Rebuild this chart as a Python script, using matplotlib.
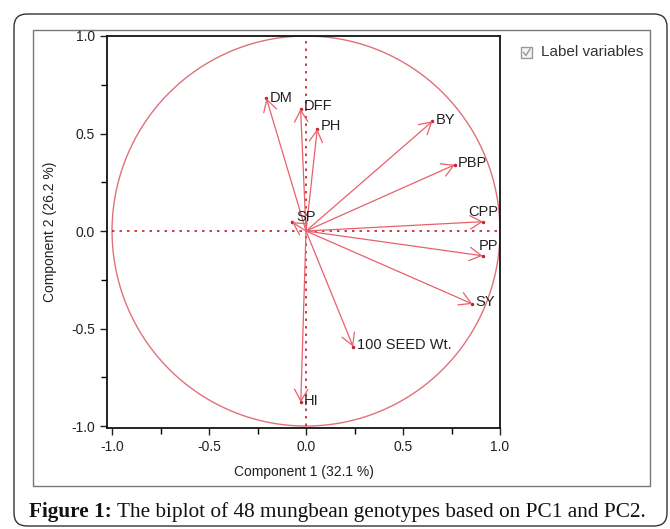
import matplotlib
matplotlib.use('Agg')
import matplotlib.pyplot as plt
from matplotlib.patches import FancyBboxPatch, Rectangle
from matplotlib.ticker import MultipleLocator
import numpy as np

# ---- data ----
variables = ['DM', 'DFF', 'PH', 'BY', 'PBP', 'CPP', 'PP', 'SY', '100 SEED Wt.', 'HI', 'SP']
pc1 = [-0.204, -0.028, 0.058, 0.652, 0.767, 0.913, 0.910, 0.858, 0.243, -0.027, -0.071]
pc2 = [0.680, 0.626, 0.523, 0.563, 0.340, 0.048, -0.127, -0.374, -0.593, -0.878, 0.045]
x_ticks = [-1.0, -0.5, 0.0, 0.5, 1.0]
y_ticks = [-1.0, -0.5, 0.0, 0.5, 1.0]
x_label = 'Component 1 (32.1 %)'
y_label = 'Component 2 (26.2 %)'
legend_text = 'Label variables'
caption_bold = 'Figure 1:'
caption_rest = ' The biplot of 48 mungbean genotypes based on PC1 and PC2.'

# ---- style ----
label_offsets = {'DM': (3, 0), 'DFF': (3, 3), 'PH': (3, 3), 'BY': (3, 1), 'PBP': (3, 2),
                 'CPP': (-15, 10), 'PP': (-4, 10), 'SY': (3, 2), '100 SEED Wt.': (4, 2),
                 'HI': (3, 1), 'SP': (4, 5)}
arrow_col = '#e8606c'
circle_col = '#e0707c'
dot_col = '#c02030'
sans = ['Liberation Sans', 'DejaVu Sans']
serif = ['Liberation Serif', 'DejaVu Serif']

W, H = 670, 529
fig = plt.figure(figsize=(W / 100, H / 100), dpi=100)
fig.patch.set_facecolor('white')

# overlay axes in pixel coordinates for frames
ov = fig.add_axes([0, 0, 1, 1])
ov.set_xlim(0, W)
ov.set_ylim(H, 0)
ov.axis('off')
ov.add_patch(FancyBboxPatch((14, 14), 653, 512, boxstyle='round,pad=0,rounding_size=13',
                            fill=False, ec='#333333', lw=1.0))
ov.add_patch(Rectangle((33, 30), 617, 456, fill=False, ec='#777777', lw=1.0))
# checkbox
ov.add_patch(Rectangle((521, 47), 11, 11, fill=True, fc='#f4f4f4', ec='#9a9a9a', lw=1.0))
ov.plot([523.5, 526, 530], [52.5, 55.5, 49], color='#9a9a9a', lw=1.0)
ov.text(541, 52.5, legend_text, fontsize=11, family=sans, color='#333333', va='center', ha='left')

# main axes
ax = fig.add_axes([107 / W, 1 - 428 / H, (500 - 107) / W, (428 - 36) / H])
ax.set_xlim(-1.026, 1.0)
ax.set_ylim(-1.01, 1.0)

theta = np.linspace(0, 2 * np.pi, 400)
ax.plot(np.cos(theta), np.sin(theta), color=circle_col, lw=1.0)
ax.plot([0, 0], [-1, 1], color=dot_col, ls=(0, (1.5, 3)), lw=1.2)
ax.plot([-1, 1], [0, 0], color=dot_col, ls=(0, (1.5, 3)), lw=1.2)

for name, x, y in zip(variables, pc1, pc2):
    ax.annotate('', xy=(x, y), xytext=(0, 0),
                arrowprops=dict(arrowstyle='->,head_length=0.7,head_width=0.4',
                                color=arrow_col, lw=0.9, shrinkA=0, shrinkB=0,
                                mutation_scale=12))
    ax.plot(x, y, 'o', ms=2.5, color=dot_col, mec='none')
    dx, dy = label_offsets[name]
    ax.annotate(name, xy=(x, y), xytext=(dx, dy), textcoords='offset pixels',
                ha='left', va='center', fontsize=10.5, family=sans, color='#222222')

ax.set_xticks(x_ticks)
ax.set_yticks(y_ticks)
ax.set_xticklabels([f'{t:.1f}' for t in x_ticks])
ax.set_yticklabels([f'{t:.1f}' for t in y_ticks])
ax.xaxis.set_minor_locator(MultipleLocator(0.25))
ax.yaxis.set_minor_locator(MultipleLocator(0.25))
ax.tick_params(which='major', direction='out', length=5, width=1.0, labelsize=10, colors='#222222')
ax.tick_params(which='minor', direction='out', length=4, width=1.0)
for lab in ax.get_xticklabels() + ax.get_yticklabels():
    lab.set_family(sans)
for s in ax.spines.values():
    s.set_linewidth(1.3)
    s.set_color('#111111')
ax.set_xlabel(x_label, fontsize=10, family=sans, color='#222222', labelpad=8)
ax.set_ylabel(y_label, fontsize=10, family=sans, color='#222222', labelpad=10)

# caption
t1 = fig.text(29 / W, 1 - 512 / H, caption_bold, fontsize=15.3, family=serif, weight='bold',
              va='center', ha='left', color='#111111')
fig.canvas.draw()
r = fig.canvas.get_renderer()
bb = t1.get_window_extent(renderer=r)
fig.text(bb.x1 / W, 1 - 512 / H, caption_rest, fontsize=15.3, family=serif,
         va='center', ha='left', color='#111111')

fig.savefig('out.png', dpi=100)
